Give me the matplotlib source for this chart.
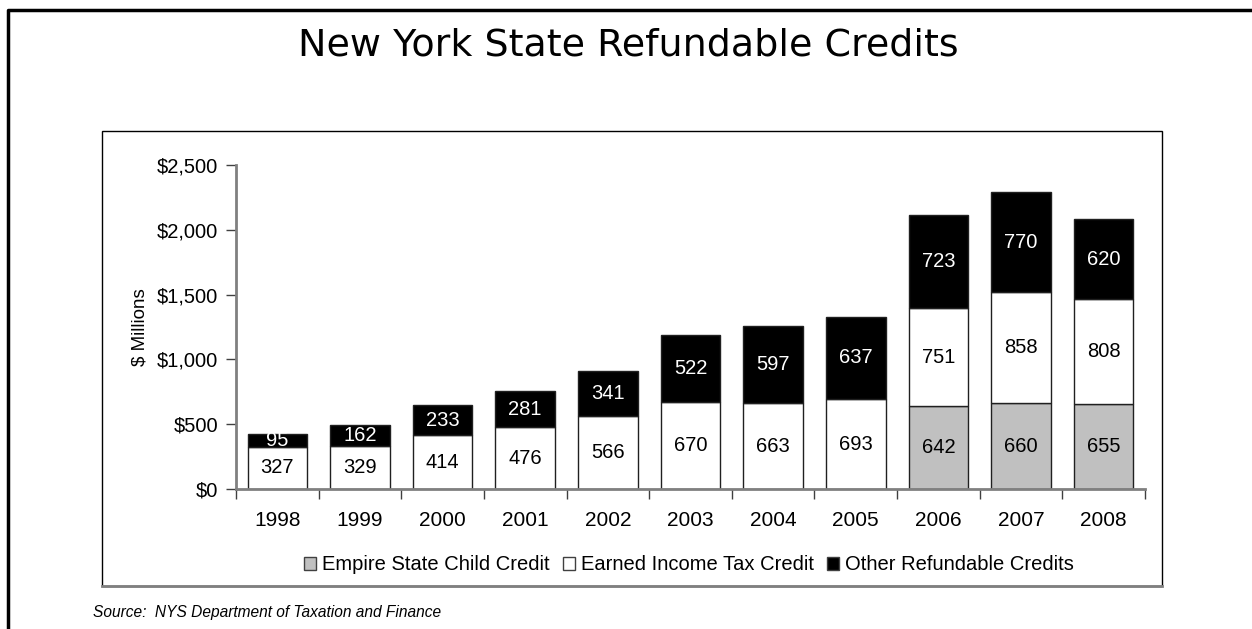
import numpy as np
import matplotlib
matplotlib.use("Agg")
import matplotlib.pyplot as plt
from matplotlib.patches import Patch, Rectangle
from matplotlib.lines import Line2D

years = ["1998", "1999", "2000", "2001", "2002", "2003", "2004", "2005", "2006", "2007", "2008"]
child_credit = [0, 0, 0, 0, 0, 0, 0, 0, 642, 660, 655]
eitc = [327, 329, 414, 476, 566, 670, 663, 693, 751, 858, 808]
other_credits = [95, 162, 233, 281, 341, 522, 597, 637, 723, 770, 620]

series_names = ["Empire State Child Credit", "Earned Income Tax Credit", "Other Refundable Credits"]
colors = ["#c0c0c0", "#ffffff", "#000000"]
text_colors = ["#000000", "#000000", "#ffffff"]

plt.rcParams['font.family'] = ['Liberation Sans', 'DejaVu Sans']

W, H = 1252, 629
fig = plt.figure(figsize=(W / 100, H / 100), dpi=100)

def fx(px):
    return px / W

def fy(py):
    return 1 - py / H

ax = fig.add_axes([fx(236), fy(489), fx(1145) - fx(236), fy(165) - fy(489)])

x = np.arange(len(years))
bottom = np.zeros(len(years))
for vals, col, tcol in zip([child_credit, eitc, other_credits], colors, text_colors):
    vals = np.array(vals, dtype=float)
    ax.bar(x, vals, width=0.72, bottom=bottom, color=col, edgecolor="#202020", linewidth=1)
    for xi, b, v in zip(x, bottom, vals):
        if v > 0:
            ax.text(xi, b + v / 2, f"{int(v)}", ha="center", va="center", fontsize=14.5, color=tcol)
    bottom += vals

ax.set_xlim(-0.5, len(years) - 0.5)
ax.set_ylim(0, 2500)
ax.set_yticks(np.arange(0, 2501, 500))
ax.set_yticklabels([f"${v:,}" for v in range(0, 2501, 500)], fontsize=14.5)
ax.set_ylabel("$ Millions", fontsize=13.5, labelpad=6)

# year labels centred on bars, tick marks on the category boundaries
ax.set_xticks(x)
ax.set_xticklabels(years, fontsize=15)
ax.tick_params(axis="x", length=0, pad=16)
ax.set_xticks(np.arange(-0.5, len(years), 1), minor=True)
ax.tick_params(axis="x", which="minor", length=7, color="#404040", width=1)
ax.tick_params(axis="y", length=7, color="#404040", width=1, pad=6)

for s in ["top", "right"]:
    ax.spines[s].set_visible(False)
for s in ["left", "bottom"]:
    ax.spines[s].set_color("#808080")
    ax.spines[s].set_linewidth(2)

handles = [Patch(facecolor=c, edgecolor="#404040", linewidth=1) for c in colors]
fig.legend(handles, series_names, loc="center", bbox_to_anchor=(fx(689), fy(565)),
           ncol=3, frameon=False, fontsize=14.5, handlelength=0.6, handleheight=0.6,
           handletextpad=0.3, columnspacing=0.65, borderpad=0)

fig.text(fx(628), fy(45), "New York State Refundable Credits", ha="center", va="center",
         fontsize=27.4, family=["DejaVu Sans"])

fig.text(fx(93), fy(613), "Source:  NYS Department of Taxation and Finance", ha="left", va="center",
         fontsize=11.2, style="italic")

# inner chart frame
fig.patches.append(Rectangle((fx(102), fy(586)), fx(1162) - fx(102), fy(131) - fy(586),
                             transform=fig.transFigure, fill=False, edgecolor="#000000", linewidth=1))
fig.lines.append(Line2D([fx(102), fx(1162)], [fy(586), fy(586)], transform=fig.transFigure,
                        color="#808080", linewidth=2))

# outer frame running off the page edges
fig.lines.append(Line2D([fx(8), fx(8), 1.0], [0.0, fy(10), fy(10)], transform=fig.transFigure,
                        color="#000000", linewidth=2.5))

fig.savefig("out.png", dpi=100)
